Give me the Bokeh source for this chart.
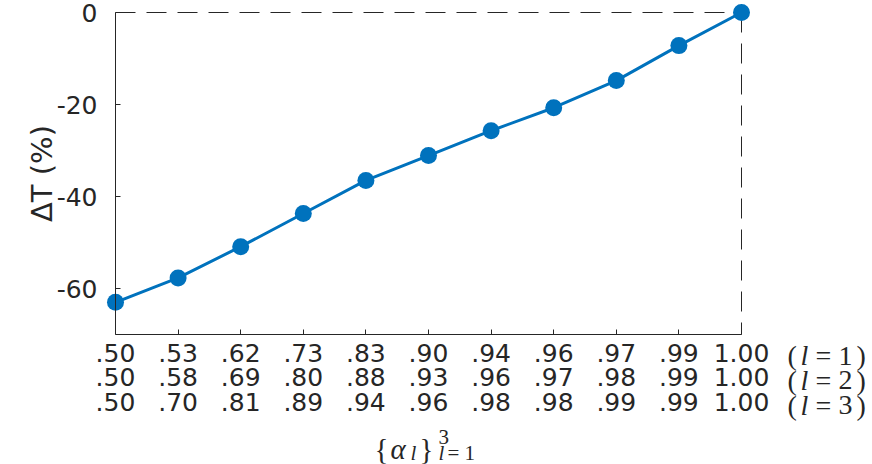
import math
from bokeh.plotting import figure
from bokeh.models import Range1d, LinearAxis, FixedTicker, Label
from bokeh.embed import file_html
from bokeh.resources import INLINE

# ---------------- data ----------------
x_idx = [0, 1, 2, 3, 4, 5, 6, 7, 8, 9, 10]
delta_T = [-63.0, -57.7, -50.9, -43.7, -36.5, -31.1, -25.7, -20.7, -14.8, -7.2, 0.0]
alpha_l1 = [".50", ".53", ".62", ".73", ".83", ".90", ".94", ".96", ".97", ".99", "1.00"]
alpha_l2 = [".50", ".58", ".69", ".80", ".88", ".93", ".96", ".97", ".98", ".99", "1.00"]
alpha_l3 = [".50", ".70", ".81", ".89", ".94", ".96", ".98", ".98", ".99", ".99", "1.00"]
row_ids = ["1", "2", "3"]
y_ticks = [-60, -40, -20, 0]
y_tick_labels = ["-60", "-40", "-20", "0"]
X_LIM = (0, 10)
Y_LIM = (-70, 0)

# ---------------- styles ----------------
BLUE = "#0072BD"
AX = "#262626"
SANS = "DejaVu Sans"
SERIF = "Liberation Serif"

W, H = 872, 464
# pixel placement of the axes box
PX_L, PX_R, PX_T, PX_B = 115, 741, 12, 334
sx = (PX_R - PX_L) / (X_LIM[1] - X_LIM[0])
sy = (PX_B - PX_T) / (Y_LIM[1] - Y_LIM[0])
xr = Range1d(X_LIM[0] - PX_L / sx, X_LIM[1] + (W - PX_R) / sx)
yr = Range1d(Y_LIM[0] - (H - PX_B) / sy, Y_LIM[1] + PX_T / sy)

p = figure(width=W, height=H, x_range=xr, y_range=yr,
           output_backend="svg", toolbar_location=None,
           x_axis_location=None, y_axis_location=None,
           min_border=0, min_border_left=0, min_border_right=0,
           min_border_top=0, min_border_bottom=0)
p.grid.visible = False
p.outline_line_color = None
p.background_fill_color = "white"
p.border_fill_color = "white"

# y axis placed at x = 0
yax = LinearAxis(ticker=FixedTicker(ticks=y_ticks), fixed_location=X_LIM[0], bounds=Y_LIM,
                 major_label_overrides=dict(zip(y_ticks, y_tick_labels)),
                 axis_label="ΔT (%)", axis_label_text_font=SANS,
                 axis_label_text_font_size="29px", axis_label_text_font_style="normal",
                 axis_label_text_color=AX, axis_label_standoff=-5,
                 axis_line_color=AX, axis_line_width=1,
                 major_tick_in=5, major_tick_out=0, major_tick_line_color=AX,
                 minor_tick_line_color=None,
                 major_label_text_font=SANS, major_label_text_font_size="25px",
                 major_label_text_color=AX, major_label_standoff=18)
p.add_layout(yax, "left")

# x axis with three rows of tick labels, placed at y = -70
overrides = {i: "\n".join([a, b, c]) for i, a, b, c in zip(x_idx, alpha_l1, alpha_l2, alpha_l3)}
xax = LinearAxis(ticker=FixedTicker(ticks=x_idx), fixed_location=Y_LIM[0], bounds=X_LIM,
                 major_label_overrides=overrides,
                 axis_line_color=AX, axis_line_width=1,
                 major_tick_in=5, major_tick_out=0, major_tick_line_color=AX,
                 minor_tick_line_color=None,
                 major_label_text_font=SANS, major_label_text_font_size="25px",
                 major_label_text_color=AX, major_label_standoff=4,
                 major_label_text_line_height=0.85)
p.add_layout(xax, "below")

# dashed box edges (top and right)
p.segment(x0=[X_LIM[0], X_LIM[1]], y0=[Y_LIM[1], Y_LIM[1]],
          x1=[X_LIM[1], X_LIM[1]], y1=[Y_LIM[1], Y_LIM[0]],
          line_color=AX, line_width=1, line_dash="20 11")

# data line and markers
p.line(x_idx, delta_T, line_color=BLUE, line_width=3)
p.scatter(x_idx, delta_T, size=17, fill_color=BLUE, line_color=None)

# row annotations (l = 1), (l = 2), (l = 3)
row_base = [-21, -45.7, -70.7]
for rid, off in zip(row_ids, row_base):
    pieces = [("(", 46, "normal"), ("l", 59, "italic"), ("=", 74, "normal"),
              (rid, 97, "normal"), (")", 115, "normal")]
    for txt, xo, st in pieces:
        p.add_layout(Label(x=X_LIM[1], y=Y_LIM[0], x_offset=xo, y_offset=off, text=txt,
                           text_font=SERIF, text_font_size="28px", text_font_style=st,
                           text_align="left", text_baseline="alphabetic", text_color=AX))

# x axis title  {alpha_l}^3_{l=1}
xc = (X_LIM[0] + X_LIM[1]) / 2
xl_pieces = [("{", -54, -114, "29px", "normal"),
             ("α", -38, -114, "29px", "italic"),
             ("l", -18, -118, "21px", "italic"),
             ("}", -9, -114, "29px", "normal"),
             ("3", 10, -102, "21px", "normal"),
             ("l", 10, -118, "21px", "italic"),
             ("=", 19, -118, "21px", "normal"),
             ("1", 36, -118, "21px", "normal")]
for txt, xo, yo, fs, st in xl_pieces:
    p.add_layout(Label(x=xc, y=Y_LIM[0], x_offset=xo, y_offset=yo, text=txt,
                       text_font=SERIF, text_font_size=fs, text_font_style=st,
                       text_align="left", text_baseline="alphabetic", text_color=AX))

open("out.html", "w").write(file_html(p, INLINE))
